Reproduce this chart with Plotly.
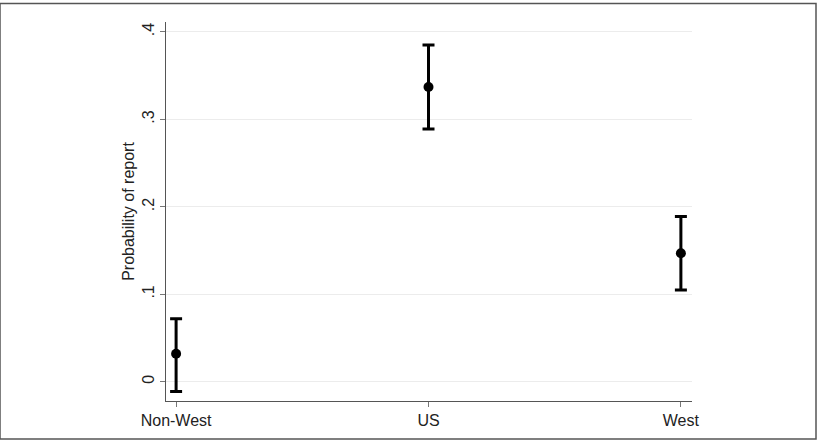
import plotly.graph_objects as go

# Estimated probability of a report by region, with confidence limits
regions = ["Non-West", "US", "West"]
estimate = [0.032, 0.337, 0.147]
upper = [0.072, 0.385, 0.189]
lower = [-0.011, 0.289, 0.105]

ytick_vals = [0, 0.1, 0.2, 0.3, 0.4]
ytick_text = ["0", ".1", ".2", ".3", ".4"]

xpos = list(range(len(regions)))
err_plus = [u - e for u, e in zip(upper, estimate)]
err_minus = [e - l for e, l in zip(estimate, lower)]

fig = go.Figure()
fig.add_trace(go.Scatter(
    x=xpos,
    y=estimate,
    mode="markers",
    marker=dict(color="black", size=10),
    error_y=dict(
        type="data",
        symmetric=False,
        array=err_plus,
        arrayminus=err_minus,
        color="black",
        thickness=3,
        width=6,
    ),
    showlegend=False,
))

fig.update_layout(
    width=819,
    height=442,
    margin=dict(l=166, r=127, t=22, b=41),
    paper_bgcolor="white",
    plot_bgcolor="white",
    font=dict(family="Liberation Sans, Arial, sans-serif", size=16, color="#222"),
    xaxis=dict(
        range=[-0.04, 2.044],
        tickvals=xpos,
        ticktext=regions,
        showgrid=False,
        zeroline=False,
        showline=True,
        linecolor="#555",
        linewidth=1,
        ticks="outside",
        ticklen=5,
        tickcolor="#777",
        tickfont=dict(size=16, color="#222"),
    ),
    yaxis=dict(
        range=[-0.022, 0.4114],
        tickvals=ytick_vals,
        ticktext=ytick_text,
        tickangle=-90,
        ticklabelstandoff=0,
        showgrid=True,
        gridcolor="#ececec",
        gridwidth=1,
        zeroline=False,
        showline=True,
        linecolor="#555",
        linewidth=1,
        ticks="outside",
        ticklen=5,
        tickcolor="#777",
        tickfont=dict(size=16, color="#222"),
        title=dict(text="Probability of report", font=dict(size=16, color="#222"), standoff=0),
    ),
    shapes=[dict(
        type="rect", xref="paper", yref="paper",
        x0=-166 / 526, x1=(819 - 166 - 3) / 526,
        y0=-(41 - 3) / 379, y1=(379 + 22 - 3.5) / 379,
        line=dict(color="#555", width=1.5),
        fillcolor="rgba(0,0,0,0)",
        layer="above",
    )],
)

fig.write_html("out.html")
